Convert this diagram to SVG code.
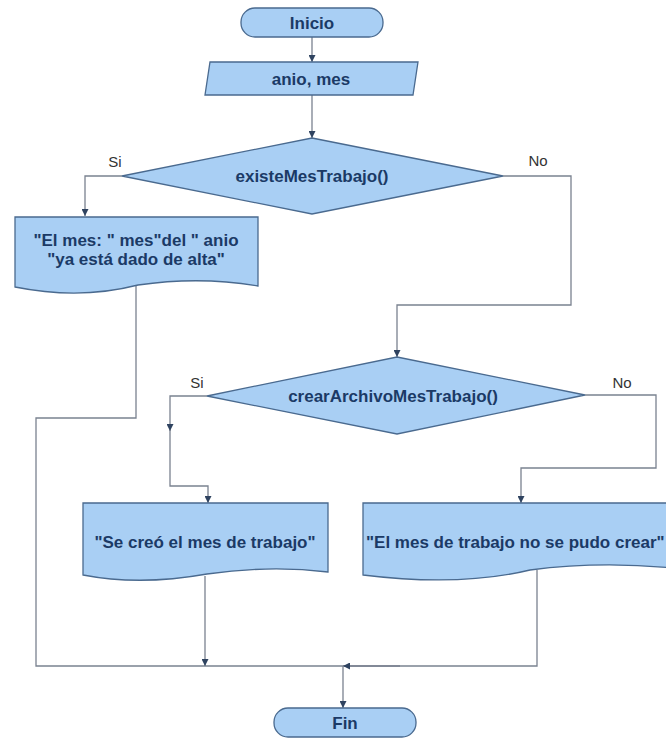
<svg xmlns="http://www.w3.org/2000/svg" width="666" height="738" viewBox="0 0 666 738">
<defs>
<style>
.shape{fill:#a9cff4;stroke:#4a6a8f;stroke-width:1.3}
.lbl{font-family:"Liberation Sans",Arial,sans-serif;font-weight:bold;font-size:17px;fill:#1b3a66;text-anchor:middle}
.br{font-family:"Liberation Sans",Arial,sans-serif;font-size:15px;fill:#333;text-anchor:middle}
.con{fill:none;stroke:#7a8290;stroke-width:1.3}
.ah{fill:#2f4360}
</style>
<marker id="arr" viewBox="0 0 10 10" refX="10" refY="5" markerWidth="7" markerHeight="7" orient="auto" markerUnits="userSpaceOnUse">
<path d="M0,0 L10,5 L0,10 Z" class="ah"/>
</marker>
</defs>
<rect width="666" height="738" fill="#ffffff"/>
<g id="connectors">
<path class="con" d="M312,37 V62" marker-end="url(#arr)"/>
<path class="con" d="M312,95 V138" marker-end="url(#arr)"/>
<path class="con" d="M122,176 H85 V216" marker-end="url(#arr)"/>
<path class="con" d="M503,176 H571 V305 H397 V357" marker-end="url(#arr)"/>
<path class="con" d="M136,286 V418 H36 V666 H537 V570"/>
<path class="con" d="M207,396 H170 V431" marker-end="url(#arr)"/>
<path class="con" d="M170,430 V486 H208 V503" marker-end="url(#arr)"/>
<path class="con" d="M585,395 H656 V468 H521 V503" marker-end="url(#arr)"/>
<path class="con" d="M205,576 V666" marker-end="url(#arr)"/>
<path class="con" d="M400,666 H343" marker-end="url(#arr)"/>
<path class="con" d="M343,666 V708" marker-end="url(#arr)"/>
<text class="br" x="115" y="167">Si</text>
<text class="br" x="538" y="166">No</text>
<text class="br" x="197" y="388">Si</text>
<text class="br" x="622" y="388">No</text>
</g>
<g id="inicio">
<rect class="shape" x="241" y="8" width="142" height="29" rx="14"/>
<text class="lbl" x="312" y="29">Inicio</text>
</g>
<g id="entrada">
<path class="shape" d="M210,62 H418 L413,95 H205 Z"/>
<text class="lbl" x="311" y="85">anio, mes</text>
</g>
<g id="decision1">
<path class="shape" d="M312,138 L503,176 L312,214 L122,176 Z"/>
<text class="lbl" x="312" y="182">existeMesTrabajo()</text>
</g>
<g id="salida1">
<path class="shape" d="M15,217 H258 V286 Q200,276 138,285 Q80,300 15,287 Z"/>
<text class="lbl" x="136" y="246">"El mes: " mes"del " anio</text>
<text class="lbl" x="136" y="265">"ya está dado de alta"</text>
</g>
<g id="decision2">
<path class="shape" d="M397,357 L585,395 L397,434 L207,396 Z"/>
<text class="lbl" x="393" y="402">crearArchivoMesTrabajo()</text>
</g>
<g id="salida2">
<path class="shape" d="M83,503 H328 V572 Q270,565 207,574 Q140,586 83,575 Z"/>
<text class="lbl" x="205" y="548">"Se creó el mes de trabajo"</text>
</g>
<g id="salida3">
<path class="shape" d="M363,503 H672 V568 Q600,561 530,570 Q460,587 363,575 Z"/>
<text class="lbl" x="366" y="548" style="text-anchor:start">"El mes de trabajo no se pudo crear"</text>
</g>
<g id="fin">
<rect class="shape" x="274" y="708" width="142" height="29" rx="14"/>
<text class="lbl" x="345" y="729">Fin</text>
</g>
</svg>
